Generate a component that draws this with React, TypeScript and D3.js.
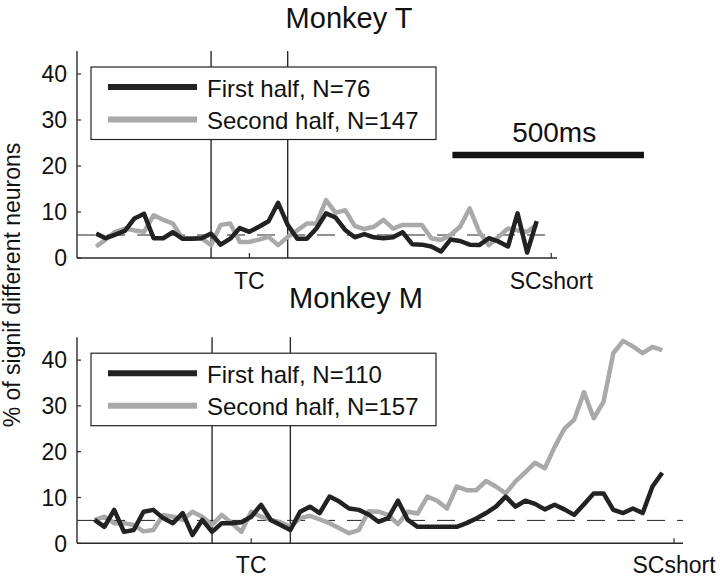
import React from 'react';
import * as d3 from 'd3';

// ---------- DATA ----------
// time bins (ms relative to TC)
const binTimesT = d3.range(-400, 751, 25);
const binTimesM = d3.range(-400, 1051, 25);

// Monkey T
const firstHalfT = [
  5.3, 4.3, 5.1, 5.9, 8.6, 9.6, 4.3, 4.3, 5.6, 4.2, 4.2, 4.3, 5.3, 2.9, 4.2, 6.5,
  5.7, 6.8, 8.0, 12.0, 7.2, 4.2, 4.2, 6.4, 9.7, 8.8, 6.1, 4.5, 5.2, 4.5, 4.3, 4.5,
  5.6, 3.0, 2.9, 2.5, 1.4, 4.0, 3.7, 2.9, 2.8, 4.3, 3.6, 2.5, 9.7, 1.2, 8.0,
];
const secondHalfT = [
  2.5, 4.0, 5.7, 6.4, 6.0, 5.7, 9.3, 8.3, 7.5, 4.3, 4.3, 4.3, 2.8, 7.2, 7.5, 3.5,
  3.5, 4.0, 4.6, 2.8, 4.6, 6.0, 7.5, 7.5, 12.6, 9.8, 10.4, 7.0, 6.3, 6.8, 8.3, 6.4,
  7.2, 7.2, 7.2, 4.3, 3.9, 5.0, 6.8, 10.8, 5.7, 2.8, 4.6, 6.4, 6.0, 5.7, 7.2,
];

// Monkey M
const firstHalfM = [
  5.1, 3.6, 7.3, 2.5, 2.9, 6.9, 7.3, 5.5, 4.4, 6.6, 1.8, 5.1, 2.5, 4.4, 4.4, 4.6,
  5.8, 8.4, 5.1, 4.0, 2.9, 6.9, 8.0, 6.6, 10.2, 9.1, 7.6, 7.3, 6.3, 4.7, 5.5, 9.3,
  5.1, 3.6, 3.6, 3.6, 3.6, 3.6, 4.4, 5.4, 6.6, 8.0, 10.2, 8.0, 9.3, 8.6, 7.4, 8.4,
  7.4, 6.2, 8.5, 10.9, 10.9, 7.3, 6.6, 7.6, 6.6, 12.4, 15.4,
];
const secondHalfM = [
  5.1, 5.8, 4.4, 4.4, 4.0, 2.6, 2.9, 6.2, 5.8, 5.1, 6.9, 5.8, 4.0, 6.2, 4.4, 2.5,
  6.9, 5.8, 5.1, 4.6, 3.6, 5.5, 6.0, 5.2, 4.4, 3.3, 2.2, 2.9, 7.0, 6.9, 6.2, 4.2,
  6.9, 6.5, 10.2, 9.3, 7.6, 12.4, 11.6, 11.6, 13.6, 12.4, 10.9, 13.5, 15.5, 17.6,
  16.4, 21.0, 25.0, 27.0, 33.0, 27.3, 30.9, 41.5, 44.2, 43.0, 41.5, 42.9, 42.2,
];

const yTicks = [0, 10, 20, 30, 40];
const yMax = 45;
const chanceLevel = 5;
const markerTimes = [-100, 100];
const legendT = ['First half, N=76', 'Second half, N=147'];
const legendM = ['First half, N=110', 'Second half, N=157'];
const eventLabels = ['TC', 'SCshort'];
const scTimeT = 788;
const scTimeM = 1080;
const scaleBarStart = 530;
const scaleBarLength = 500;
const scaleBarLabel = '500ms';
const titles = ['Monkey T', 'Monkey M'];
const yLabel = '% of signif different neurons';

// ---------- STYLE ----------
const FONT = '"Liberation Sans", Arial, Helvetica, sans-serif';
const DARK = '#222222';
const GRAY = '#a9a9a9';
const AXIS = '#2a2a2a';

type PanelProps = {
  times: number[];
  first: number[];
  second: number[];
  legend: string[];
  title: string;
  titleX: number;
  titleY: number;
  xDomain: [number, number];
  xRange: [number, number];
  yRange: [number, number];
  scTime: number;
  labelOffset: number;
  scaleBar?: boolean;
};

function Panel(p: PanelProps) {
  const x = d3.scaleLinear().domain(p.xDomain).range(p.xRange);
  const y = d3.scaleLinear().domain([0, yMax]).range(p.yRange);
  const line = d3
    .line<number>()
    .x((_, i) => x(p.times[i]))
    .y((d) => y(d));
  const x0 = p.xRange[0];
  const x1 = p.xRange[1];
  const yTop = y(yMax);
  const y0 = y(0);
  const boxTop = yTop + 16;
  const tickTimes = [0, p.scTime];

  return (
    <g>
      <text x={p.titleX} y={p.titleY} textAnchor="middle" fontSize={29} fontFamily={FONT} fill="#111">
        {p.title}
      </text>
      {/* chance level */}
      <line x1={x0} x2={x1} y1={y(chanceLevel)} y2={y(chanceLevel)} stroke={DARK} strokeWidth={1} strokeDasharray="18,12" />
      {/* event markers */}
      {markerTimes.map((t) => (
        <line key={t} x1={x(t)} x2={x(t)} y1={yTop} y2={y0} stroke={AXIS} strokeWidth={1.4} />
      ))}
      {/* data */}
      <path d={line(p.second) || ''} fill="none" stroke={GRAY} strokeWidth={4.5} strokeLinejoin="round" />
      <path d={line(p.first) || ''} fill="none" stroke={DARK} strokeWidth={4.5} strokeLinejoin="round" />
      {/* axes */}
      <line x1={x0} x2={x0} y1={yTop} y2={y0} stroke={AXIS} strokeWidth={1.4} />
      <line x1={x0} x2={x1} y1={y0} y2={y0} stroke={AXIS} strokeWidth={1.4} />
      {yTicks.map((v) => (
        <g key={v}>
          <line x1={x0} x2={x0 + 4} y1={y(v)} y2={y(v)} stroke={AXIS} strokeWidth={1.2} />
          <text x={x0 - 10} y={y(v)} dy="0.36em" textAnchor="end" fontSize={23} fontFamily={FONT} fill="#111">
            {v}
          </text>
        </g>
      ))}
      {tickTimes.map((t, i) => (
        <g key={t}>
          <line x1={x(t)} x2={x(t)} y1={y0} y2={y0 - 5} stroke={AXIS} strokeWidth={1.2} />
          <text x={x(t)} y={y0 + p.labelOffset} textAnchor="middle" fontSize={23} fontFamily={FONT} fill="#111">
            {eventLabels[i]}
          </text>
        </g>
      ))}
      {/* legend */}
      <rect x={91} y={boxTop} width={345} height={72.5} fill="#fff" stroke={DARK} strokeWidth={1.2} />
      <line x1={108} x2={197} y1={boxTop + 20} y2={boxTop + 20} stroke={DARK} strokeWidth={6} />
      <line x1={108} x2={197} y1={boxTop + 52.5} y2={boxTop + 52.5} stroke={GRAY} strokeWidth={6} />
      <text x={207} y={boxTop + 30} fontSize={24} fontFamily={FONT} fill="#111">
        {p.legend[0]}
      </text>
      <text x={207} y={boxTop + 61.8} fontSize={24} fontFamily={FONT} fill="#111">
        {p.legend[1]}
      </text>
      {p.scaleBar && (
        <g>
          <line
            x1={x(scaleBarStart)}
            x2={x(scaleBarStart + scaleBarLength)}
            y1={155}
            y2={155}
            stroke="#111"
            strokeWidth={6.5}
          />
          <text
            x={(x(scaleBarStart) + x(scaleBarStart + scaleBarLength)) / 2}
            dx={6}
            y={142}
            textAnchor="middle"
            fontSize={28}
            fontFamily={FONT}
            fill="#111"
          >
            {scaleBarLabel}
          </text>
        </g>
      )}
    </g>
  );
}

export default function App() {
  return (
    <svg
      width={720}
      height={579}
      viewBox="0 0 720 579"
      style={{ position: 'absolute', left: 0, top: 0, display: 'block', background: '#fff' }}
    >
      <rect x={0} y={0} width={720} height={579} fill="#fff" />
      <Panel
        times={binTimesT}
        first={firstHalfT}
        second={secondHalfT}
        legend={legendT}
        title={titles[0]}
        titleX={349}
        titleY={28}
        xDomain={[-450, 803]}
        xRange={[77, 557]}
        yRange={[258, 51]}
        scTime={scTimeT}
        labelOffset={31}
        scaleBar
      />
      <Panel
        times={binTimesM}
        first={firstHalfM}
        second={secondHalfM}
        legend={legendM}
        title={titles[1]}
        titleX={356}
        titleY={308}
        xDomain={[-445, 1103]}
        xRange={[77, 683]}
        yRange={[543.3, 337.2]}
        scTime={scTimeM}
        labelOffset={30}
      />
      <text
        transform="translate(20,285) rotate(-90)"
        textAnchor="middle"
        fontSize={23}
        fontFamily={FONT}
        fill="#111"
      >
        {yLabel}
      </text>
    </svg>
  );
}
